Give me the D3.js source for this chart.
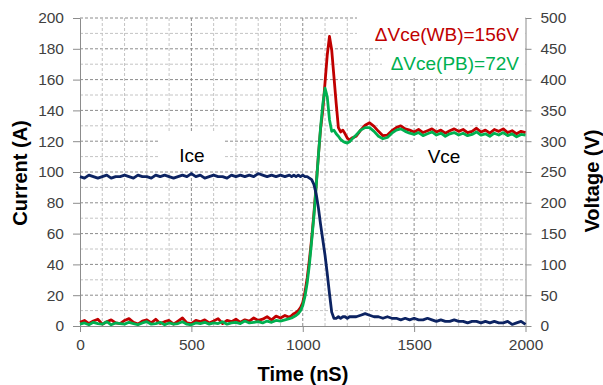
<!DOCTYPE html>
<html><head><meta charset="utf-8">
<script src="https://cdn.jsdelivr.net/npm/d3@7"></script>
<style>
html,body{margin:0;padding:0;background:#fff;}
svg{display:block;font-family:"Liberation Sans",Arial,sans-serif;}
</style></head>
<body>
<svg id="chart" width="603" height="385"></svg>
<script>
// ---- data ----
const timeNs = [0,20,40,60,80,100,120,140,160,180,200,220,240,260,280,300,320,340,360,380,400,420,440,460,480,500,520,540,560,580,600,620,640,660,680,700,720,740,760,780,800,820,840,860,880,900,920,940,
950,960,970,980,990,1000,1010,1020,1030,1040,1050,1060,1070,1080,1090,1100,1110,1120,1130,1140,1150,1160,1170,1180,1190,1200,1210,1220,
1240,1260,1280,1300,1320,1340,1360,1380,1400,1420,1440,1460,1480,1500,1520,1540,1560,1580,1600,1620,1640,1660,1680,1700,1720,1740,1760,1780,1800,1820,1840,1860,1880,1900,1920,1940,1960,1980,2000];

const iceA = [97,96,98,97,96,97,98,96,97,97,98,97,96,98,97,97,96,98,97,98,97,96,97,98,97,99,97,98,96,97,98,97,97,96,98,97,98,97,98,97,99,98,97,98,97,98,97,98,
97,98,97,98,97,98,97,97,96,95,92,86,77,66,56,46,34,21,9,5,5,6,5,6,6,5,6,6,
6,7,8,7,6,6,5,6,5,5,4,5,4,5,4,4,5,4,3,4,3,3,4,3,3,2,3,3,2,3,2,3,2,2,3,1,2,3,1];

const vceWB = [6,9,4,8,11,3,7,10,5,4,9,12,6,3,8,10,5,11,4,7,9,3,8,13,5,4,9,7,10,5,8,12,4,9,7,11,6,10,8,13,9,11,15,10,16,13,17,14,
17,20,22,25,30,38,55,78,108,142,182,228,276,320,350,395,440,470,448,405,362,322,315,318,312,305,302,305,
308,318,326,330,324,316,309,310,317,322,325,320,318,315,319,314,317,320,315,318,313,317,320,316,319,314,316,321,315,318,313,319,316,320,314,317,312,316,314];

const vcePB = [3,5,2,6,4,3,7,2,5,4,3,6,4,2,5,7,3,4,6,2,5,3,4,7,3,2,5,4,6,3,5,4,7,3,5,6,4,8,5,6,7,5,8,6,9,8,10,12,
13,15,17,20,25,33,48,70,100,138,178,225,275,322,360,386,372,335,316,318,312,308,303,300,298,297,299,303,
310,318,322,322,316,308,304,306,313,318,320,316,313,311,314,309,312,315,310,313,308,312,314,310,313,309,311,315,310,312,308,313,310,314,309,312,307,311,310];

const xTicks = [0,500,1000,1500,2000];
const currentTicks = [0,20,40,60,80,100,120,140,160,180,200];
const voltageTicks = [0,50,100,150,200,250,300,350,400,450,500];
const labelWB = "\u0394Vce(WB)=156V";
const labelPB = "\u0394Vce(PB)=72V";

// ---- layout ----
const svg = d3.select("#chart");
const L = 80, R = 525.5, T = 18, B = 326;
const x = d3.scaleLinear([0,2000],[L,R]);
const yI = d3.scaleLinear([0,200],[B,T]);
const yV = d3.scaleLinear([0,500],[B,T]);

// grid
const g = svg.append("g");
d3.range(10,201,10).forEach(v=>{
  const major = v%20===0;
  g.append("line").attr("x1",L).attr("x2",R).attr("y1",yI(v)).attr("y2",yI(v))
   .attr("stroke",major?"#8c8c8c":"#c4c4c4").attr("stroke-width",1).attr("stroke-dasharray","3,2");
});
d3.range(100,2000,100).forEach(v=>{
  const major = v%500===0;
  g.append("line").attr("y1",T).attr("y2",B).attr("x1",x(v)).attr("x2",x(v))
   .attr("stroke",major?"#8c8c8c":"#c4c4c4").attr("stroke-width",1).attr("stroke-dasharray","3,2");
});

// white label boxes
const boxes = [[159,133,64,38],[413,140,67,32],[357,12,168,35],[382,47,143,31]];
boxes.forEach(b=>svg.append("rect").attr("x",b[0]).attr("y",b[1]).attr("width",b[2]).attr("height",b[3]).attr("fill","#fff"));

// axes
function style(sel){
  sel.selectAll("path,line").attr("stroke","#8c8c8c").attr("stroke-width",1);
  sel.selectAll("text").attr("fill","#404040").attr("font-size","15.5px").attr("font-family","Liberation Sans, Arial, sans-serif");
}
const fmt = d3.format("d");
svg.append("g").attr("transform",`translate(${L},0)`)
  .call(d3.axisLeft(yI).tickValues(currentTicks).tickFormat(fmt).tickSize(7).tickPadding(9).tickSizeOuter(0)).call(style);
svg.append("g").attr("transform",`translate(${R},0)`)
  .call(d3.axisRight(yV).tickValues(voltageTicks).tickFormat(fmt).tickSize(6).tickPadding(9).tickSizeOuter(0)).call(style);
svg.append("g").attr("transform",`translate(0,${B})`)
  .call(d3.axisBottom(x).tickValues(xTicks).tickFormat(fmt).tickSize(6).tickPadding(7).tickSizeOuter(0)).call(style);

// lines
const pts = (arr)=>timeNs.map((t,i)=>[t,arr[i]]);
const lineI = d3.line().x(d=>x(d[0])).y(d=>yI(d[1]));
const lineV = d3.line().x(d=>x(d[0])).y(d=>yV(d[1]));
svg.append("path").attr("d",lineV(pts(vceWB))).attr("fill","none").attr("stroke","#c00000").attr("stroke-width",2.8).attr("stroke-linejoin","round");
svg.append("path").attr("d",lineV(pts(vcePB))).attr("fill","none").attr("stroke","#00b050").attr("stroke-width",2.8).attr("stroke-linejoin","round");
svg.append("path").attr("d",lineI(pts(iceA))).attr("fill","none").attr("stroke","#0c2362").attr("stroke-width",2.8).attr("stroke-linejoin","round");

// labels
svg.append("text").attr("x",192).attr("y",162).attr("text-anchor","middle").attr("font-size","19px").attr("fill","#000").text("Ice");
svg.append("text").attr("x",444).attr("y",163).attr("text-anchor","middle").attr("font-size","19px").attr("fill","#000").text("Vce");
svg.append("text").attr("x",519).attr("y",41).attr("text-anchor","end").attr("font-size","19px").attr("fill","#c00000").text(labelWB);
svg.append("text").attr("x",519).attr("y",70).attr("text-anchor","end").attr("font-size","19px").attr("fill","#00b050").text(labelPB);

// axis titles
svg.append("text").attr("x",303).attr("y",381).attr("text-anchor","middle").attr("font-size","20px").attr("font-weight","bold").attr("fill","#000").text("Time (nS)");
svg.append("text").attr("transform","translate(27,173) rotate(-90)").attr("text-anchor","middle").attr("font-size","20px").attr("font-weight","bold").attr("fill","#000").text("Current (A)");
svg.append("text").attr("transform","translate(599,181) rotate(-90)").attr("text-anchor","middle").attr("font-size","20px").attr("font-weight","bold").attr("fill","#000").text("Voltage (V)");
</script>
</body></html>
